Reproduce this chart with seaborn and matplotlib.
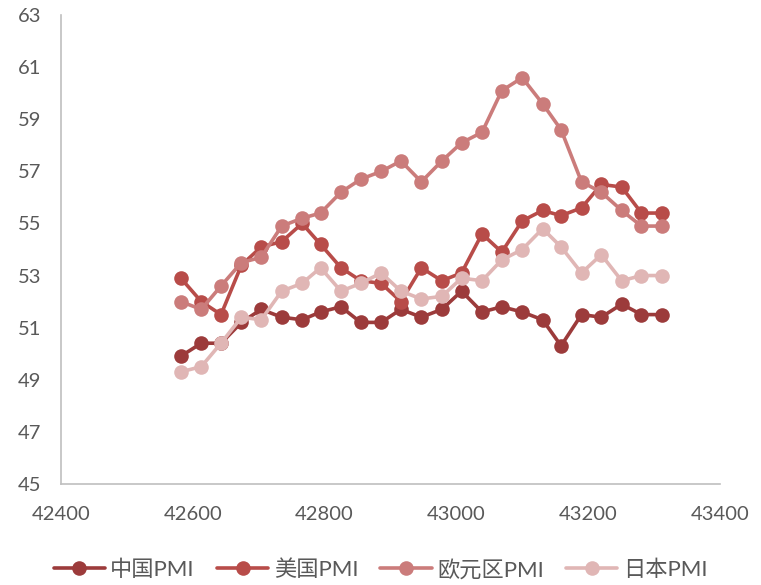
import matplotlib
matplotlib.use("Agg")
import matplotlib.pyplot as plt
import seaborn as sns
import pandas as pd

# monthly PMI readings, Jul 2016 - Jul 2018 (x as Excel serial dates)
dates = pd.date_range("2016-07-31", periods=25, freq="ME")
x_serial = list((dates - pd.Timestamp("1899-12-30")).days)

china = [49.9, 50.4, 50.4, 51.2, 51.7, 51.4, 51.3, 51.6, 51.8, 51.2, 51.2, 51.7, 51.4,
         51.7, 52.4, 51.6, 51.8, 51.6, 51.3, 50.3, 51.5, 51.4, 51.9, 51.5, 51.5]
usa = [52.9, 52.0, 51.5, 53.4, 54.1, 54.3, 55.0, 54.2, 53.3, 52.8, 52.7, 52.0, 53.3,
       52.8, 53.1, 54.6, 53.9, 55.1, 55.5, 55.3, 55.6, 56.5, 56.4, 55.4, 55.4]
euro = [52.0, 51.7, 52.6, 53.5, 53.7, 54.9, 55.2, 55.4, 56.2, 56.7, 57.0, 57.4, 56.6,
        57.4, 58.1, 58.5, 60.1, 60.6, 59.6, 58.6, 56.6, 56.2, 55.5, 54.9, 54.9]
japan = [49.3, 49.5, 50.4, 51.4, 51.3, 52.4, 52.7, 53.3, 52.4, 52.7, 53.1, 52.4, 52.1,
         52.2, 52.9, 52.8, 53.6, 54.0, 54.8, 54.1, 53.1, 53.8, 52.8, 53.0, 53.0]

names = ["中国PMI", "美国PMI", "欧元区PMI", "日本PMI"]
colors = ["#9C3B3B", "#B84C49", "#CB7C7B", "#E0B6B5"]

df = pd.DataFrame({
    "x": x_serial * 4,
    "value": china + usa + euro + japan,
    "series": sum([[n] * len(x_serial) for n in names], []),
})

sns.set_style("white")
plt.rcParams["font.family"] = ["Lato", "Noto Sans CJK SC", "DejaVu Sans"]

fig = plt.figure(figsize=(7.61, 5.85), dpi=100)
ax = fig.add_axes([0.080, 0.173, 0.866, 0.801])

sns.lineplot(data=df, x="x", y="value", hue="series", hue_order=names,
             palette=colors, marker="o", markersize=10.5, markeredgewidth=0,
             linewidth=2.6, ax=ax, legend=True)

ax.set_xlim(42400, 43400)
ax.set_ylim(45, 63)
ax.set_xticks(range(42400, 43401, 200))
ax.set_yticks(range(45, 64, 2))
ax.set_xlabel("")
ax.set_ylabel("")
ax.tick_params(axis="both", length=0, labelsize=14.5, labelcolor="#595959")
ax.tick_params(axis="x", pad=16)
ax.tick_params(axis="y", pad=14)
for side in ["top", "right"]:
    ax.spines[side].set_visible(False)
for side in ["left", "bottom"]:
    ax.spines[side].set_color("#BFBFBF")
    ax.spines[side].set_linewidth(1.2)

handles, labels = ax.get_legend_handles_labels()
ax.legend_.remove()
fig.legend(handles, labels, loc="center", bbox_to_anchor=(0.5, 0.026), ncol=4,
           frameon=False, fontsize=16, labelcolor="#595959",
           handlelength=2.3, handletextpad=0.25, columnspacing=1.0)

fig.savefig("out.png", dpi=100)
